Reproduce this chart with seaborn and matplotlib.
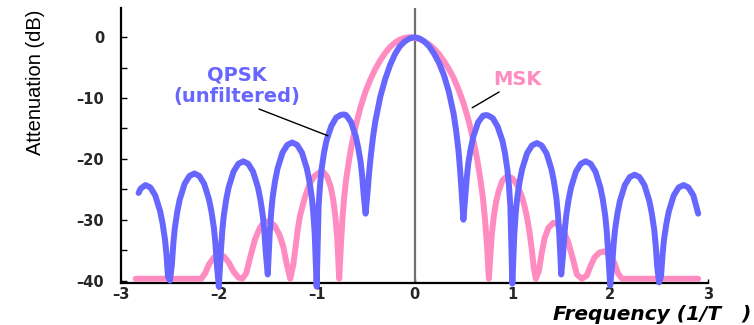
import matplotlib
matplotlib.use("Agg")
import matplotlib.pyplot as plt
import seaborn as sns

# ---- data ----
qpsk_freq = [-2.82, -2.80, -2.75, -2.70, -2.65, -2.60, -2.575, -2.55, -2.535, -2.52, -2.50,
             -2.48, -2.465, -2.45, -2.425, -2.40, -2.35, -2.30, -2.25, -2.20, -2.15, -2.10,
             -2.075, -2.05, -2.035, -2.02, -2.00,
             -1.98, -1.965, -1.95, -1.925, -1.90, -1.85, -1.80, -1.75, -1.70, -1.65, -1.60,
             -1.575, -1.55, -1.535, -1.52, -1.50,
             -1.48, -1.465, -1.45, -1.425, -1.40, -1.35, -1.30, -1.25, -1.20, -1.15, -1.10,
             -1.075, -1.05, -1.035, -1.02, -1.00,
             -0.98, -0.965, -0.95, -0.925, -0.90, -0.85, -0.80, -0.75, -0.72, -0.70, -0.65,
             -0.60, -0.575, -0.55, -0.535, -0.52, -0.50,
             -0.48, -0.465, -0.45, -0.425, -0.40, -0.35, -0.30, -0.25, -0.20, -0.15, -0.10,
             -0.05, 0.00, 0.05, 0.10, 0.15, 0.20, 0.25, 0.30, 0.35, 0.40, 0.425, 0.45, 0.465,
             0.48, 0.50,
             0.52, 0.535, 0.55, 0.575, 0.60, 0.65, 0.70, 0.73, 0.75, 0.80, 0.85, 0.90, 0.925,
             0.95, 0.965, 0.98, 1.00,
             1.02, 1.035, 1.05, 1.075, 1.10, 1.15, 1.20, 1.25, 1.30, 1.35, 1.40, 1.425, 1.45,
             1.465, 1.48, 1.50,
             1.52, 1.535, 1.55, 1.575, 1.60, 1.65, 1.70, 1.75, 1.80, 1.85, 1.90, 1.925, 1.95,
             1.965, 1.98, 2.00,
             2.02, 2.035, 2.05, 2.075, 2.10, 2.15, 2.20, 2.25, 2.30, 2.35, 2.40, 2.425, 2.45,
             2.465, 2.48, 2.50,
             2.52, 2.535, 2.55, 2.575, 2.60, 2.65, 2.70, 2.75, 2.80, 2.85, 2.90]
qpsk_db = [-25.6, -24.9, -24.3, -24.7, -26.0, -28.6, -30.6, -33.3, -35.8, -39.3, -40.0,
           -37.4, -33.9, -31.4, -28.7, -26.7, -24.1, -22.8, -22.4, -22.8, -24.1, -26.7,
           -28.7, -31.4, -33.9, -37.4, -41.0,
           -35.4, -31.9, -29.4, -26.7, -24.7, -22.1, -20.8, -20.4, -20.8, -22.1, -24.7,
           -26.7, -29.4, -31.9, -35.4, -39.0,
           -32.3, -28.8, -26.3, -23.6, -21.6, -19.0, -17.7, -17.3, -17.7, -19.0, -21.6,
           -23.6, -26.3, -28.8, -32.3, -41.0,
           -27.7, -24.2, -21.7, -19.0, -17.0, -14.6, -13.2, -12.75, -12.7, -12.8, -13.9,
           -16.3, -18.2, -20.6, -22.8, -25.8, -29.0,
           -25.5, -22.5, -20.0, -16.5, -13.8, -9.8, -6.9, -4.6, -2.8, -1.5, -0.7,
           -0.2, 0.0, -0.2, -0.7, -1.5, -2.7, -4.2, -6.2, -8.9, -12.6, -15.3, -18.7, -21.6,
           -25.0, -30.0,
           -26.0, -23.0, -20.7, -18.3, -16.4, -14.0, -12.9, -12.8, -12.85, -13.3, -14.7, -17.1,
           -19.1, -21.8, -24.3, -27.8, -40.5,
           -32.4, -28.9, -26.4, -23.7, -21.7, -19.1, -17.8, -17.4, -17.8, -19.1, -21.7, -23.7,
           -26.4, -28.9, -32.4, -39.0,
           -35.4, -31.9, -29.4, -26.7, -24.7, -22.1, -20.8, -20.4, -20.8, -22.1, -24.7, -26.7,
           -29.4, -31.9, -35.4, -40.8,
           -37.6, -34.1, -31.6, -28.9, -26.9, -24.3, -23.0, -22.6, -23.0, -24.3, -26.9, -28.9,
           -31.6, -34.1, -37.6, -40.3,
           -39.3, -35.8, -33.3, -30.6, -28.6, -26.0, -24.7, -24.3, -24.7, -26.0, -29.0]

msk_freq = [-2.85, -2.18, -2.14, -2.10, -2.05, -2.00, -1.95, -1.90, -1.85, -1.80, -1.76,
            -1.72, -1.68, -1.63, -1.58, -1.53, -1.48, -1.43, -1.38, -1.34, -1.31, -1.27,
            -1.24, -1.22, -1.195, -1.17, -1.12, -1.07, -1.02, -0.97, -0.93, -0.89, -0.855,
            -0.83, -0.81, -0.79, -0.77,
            -0.75, -0.735, -0.72, -0.70, -0.67, -0.64, -0.60, -0.55, -0.50, -0.45, -0.40,
            -0.35, -0.30, -0.25, -0.20, -0.15, -0.10, -0.05, 0.00, 0.05, 0.10, 0.15, 0.20,
            0.25, 0.30, 0.35, 0.40, 0.45, 0.50, 0.55, 0.60, 0.64, 0.67, 0.70, 0.72, 0.74,
            0.76,
            0.775, 0.79, 0.81, 0.835, 0.86, 0.90, 0.95, 1.00, 1.05, 1.10, 1.125, 1.15, 1.175,
            1.20, 1.22, 1.24,
            1.27, 1.30, 1.33, 1.37, 1.42, 1.47, 1.52, 1.57, 1.62, 1.66, 1.71,
            1.76, 1.80, 1.84, 1.89, 1.94, 1.99, 2.04, 2.08, 2.12, 2.90]
msk_db = [-39.7, -39.7, -38.8, -37.3, -36.2, -35.8, -36.0, -37.0, -38.5, -39.5, -39.7,
          -38.8, -36.2, -33.2, -31.3, -30.3, -30.3, -31.0, -32.5, -34.5, -37.0, -39.7,
          -37.5, -35.0, -31.8, -29.3, -26.3, -24.0, -22.8, -22.2, -22.2, -23.0, -24.7,
          -26.8, -29.3, -33.0, -39.7,
          -33.5, -29.5, -26.5, -23.5, -20.3, -17.5, -14.5, -11.4, -8.9, -6.9, -5.2,
          -3.8, -2.6, -1.6, -0.9, -0.4, -0.1, 0.0, -0.1, -0.3, -0.7, -1.2, -1.9,
          -2.8, -3.9, -5.2, -6.7, -8.6, -10.8, -13.5, -16.8, -20.0, -23.0, -26.5, -29.8, -34.0,
          -39.7,
          -36.0, -32.5, -29.5, -27.0, -25.3, -23.5, -22.8, -23.2, -24.3, -26.3, -27.8, -29.6,
          -32.0, -35.0, -38.0, -39.7,
          -38.5, -35.5, -33.0, -31.3, -30.5, -30.8, -31.8, -33.6, -36.5, -39.0, -39.7,
          -39.2, -37.6, -36.2, -35.4, -35.2, -35.7, -37.0, -38.8, -39.7, -39.7]

y_ticks = [-40, -30, -20, -10, 0]
y_minor = [-35, -25, -15, -5]
x_ticks = [-3, -2, -1, 0, 1, 2, 3]

BLUE = "#6767ff"
PINK = "#ff8cc0"

sns.set_theme(style="white")
plt.rcParams["font.family"] = ["DejaVu Sans"]

fig = plt.figure(figsize=(7.54, 3.25), dpi=100)
ax = fig.add_axes([121 / 754, 1 - 283 / 325, (708 - 121) / 754, (283 - 8) / 325])

ax.axvline(0, color="#707070", lw=1.6, zorder=1)

sns.lineplot(x=msk_freq, y=msk_db, ax=ax, color=PINK, linewidth=4.3, sort=False,
             estimator=None, zorder=3, clip_on=False, solid_joinstyle="round")
sns.lineplot(x=qpsk_freq, y=qpsk_db, ax=ax, color=BLUE, linewidth=4.3, sort=False,
             estimator=None, zorder=4, clip_on=False, solid_joinstyle="round")

ax.set_xlim(-3, 3)
ax.set_ylim(-40.4, 4.8)

for s in ["top", "right"]:
    ax.spines[s].set_visible(False)
for s in ["left", "bottom"]:
    ax.spines[s].set_color("black")
    ax.spines[s].set_linewidth(1.6)
    ax.spines[s].set_zorder(2)

ax.set_yticks(y_ticks)
ax.set_yticks(y_minor, minor=True)
ax.set_yticklabels([f"\u2013{abs(v)}" if v < 0 else str(v) for v in y_ticks],
                   fontweight="bold", fontsize=10.5)
ax.set_xticks(x_ticks)
ax.set_xticklabels([f"\u2013{abs(v)}" if v < 0 else str(v) for v in x_ticks],
                   fontweight="bold", fontsize=10.5)
ax.tick_params(axis="y", which="both", direction="in", length=4, width=1, color="black",
               left=True, pad=12)
ax.tick_params(axis="x", which="both", direction="in", length=3, width=1, color="black",
               bottom=True, pad=3)
ax.grid(False)
ax.set_xlabel("")
ax.set_ylabel("")

fig.text(36 / 754, 1 - 82 / 325, "Attenuation (dB)", rotation=90, ha="center", va="center",
         fontsize=14.5, family=["Liberation Sans", "DejaVu Sans"], color="black")
fig.text(751 / 754, 1 - 315 / 325, "Frequency (1/T   )", ha="right", va="center",
         fontsize=14.5, fontweight="bold", fontstyle="italic", color="black")

ax.text(-1.82, -6.2, "QPSK", color=BLUE, ha="center", va="center", fontsize=14,
        fontweight="bold")
ax.text(-1.82, -9.7, "(unfiltered)", color=BLUE, ha="center", va="center", fontsize=14,
        fontweight="bold")
ax.plot([-1.59, -0.885], [-11.8, -16.2], color="black", lw=1.0, zorder=5)
ax.text(1.05, -7.0, "MSK", color=PINK, ha="center", va="center", fontsize=14,
        fontweight="bold")
ax.plot([0.865, 0.59], [-9.0, -11.6], color="black", lw=1.0, zorder=5)

fig.savefig("out.png", dpi=100)
